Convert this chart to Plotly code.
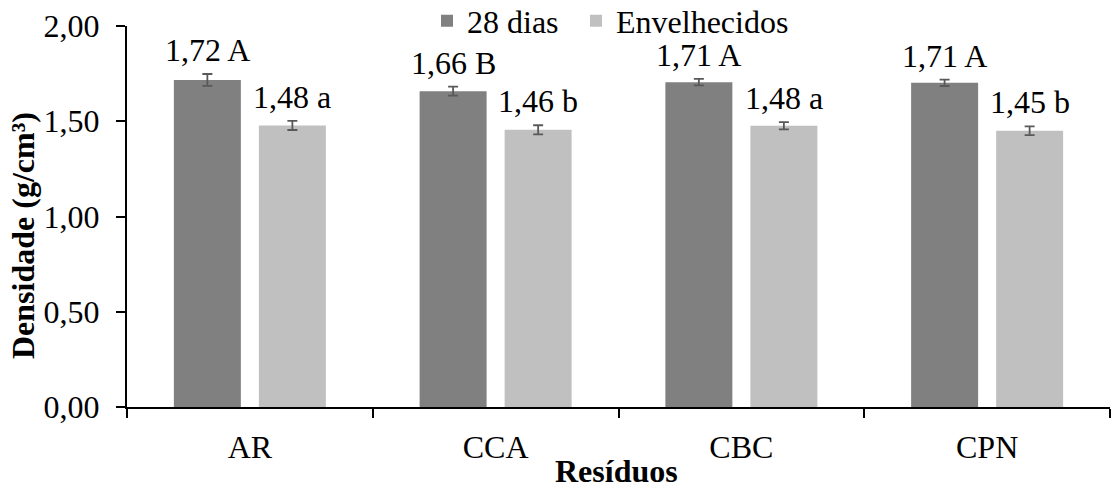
import plotly.graph_objects as go

categories = ["AR", "CCA", "CBC", "CPN"]
series_names = ["28 dias", "Envelhecidos"]
vals_28 = [1.717, 1.658, 1.705, 1.702]
vals_env = [1.478, 1.455, 1.476, 1.450]
err_28 = [0.031, 0.024, 0.017, 0.017]
err_env = [0.024, 0.024, 0.019, 0.023]
labels_28 = ["1,72 A", "1,66 B", "1,71 A", "1,71 A"]
labels_env = ["1,48 a", "1,46 b", "1,48 a", "1,45 b"]
y_ticks = [0, 0.5, 1.0, 1.5, 2.0]
y_ticktext = ["0,00", "0,50", "1,00", "1,50", "2,00"]

FONT = "Liberation Serif"
FS = 32
C28 = "#808080"
CENV = "#C0C0C0"
ERRC = "#595959"
BARGAP = 0.308
BARGROUPGAP = 0.212

fig = go.Figure()
for name, vals, errs, col, leg in [(series_names[0], vals_28, err_28, C28, "legend"),
                                   (series_names[1], vals_env, err_env, CENV, "legend2")]:
    fig.add_trace(go.Bar(
        name=name, x=categories, y=vals, marker=dict(color=col, line=dict(width=0)),
        error_y=dict(type="data", array=errs, visible=True, color=ERRC, thickness=1.8, width=5),
        legend=leg,
    ))

slot = (1 - BARGAP) / 2
off = slot / 2
tfont = dict(family=FONT, size=FS, color="black")
annotations = []
for i in range(len(categories)):
    for sign, vals, errs, labs in [(-1, vals_28, err_28, labels_28), (1, vals_env, err_env, labels_env)]:
        annotations.append(dict(
            x=i + sign * off, y=vals[i] + errs[i], xref="x", yref="y",
            text=labs[i], showarrow=False, yanchor="bottom", xanchor="center",
            yshift=4, font=tfont))

annotations.append(dict(
    x=-104 / 983, y=(407 - 236) / 381, xref="paper", yref="paper",
    text="<b>Densidade (g/cm³)</b>", textangle=-90, showarrow=False,
    xanchor="center", yanchor="middle", font=tfont))
annotations.append(dict(
    x=(616.5 - 127) / 983, y=-(471 - 407) / 381, xref="paper", yref="paper",
    text="<b>Resíduos</b>", showarrow=False,
    xanchor="center", yanchor="middle", font=tfont))

fig.update_layout(
    width=1112, height=486,
    margin=dict(l=127, r=2, t=26, b=79, autoexpand=False),
    paper_bgcolor="white", plot_bgcolor="white",
    barmode="group", bargap=BARGAP, bargroupgap=BARGROUPGAP,
    font=tfont,
    showlegend=True,
    legend=dict(orientation="h", x=(427 - 127) / 983, xanchor="left",
                y=1 + 5 / 381, yanchor="middle", bgcolor="rgba(0,0,0,0)", font=tfont),
    legend2=dict(orientation="h", x=(576 - 127) / 983, xanchor="left",
                 y=1 + 5 / 381, yanchor="middle", bgcolor="rgba(0,0,0,0)", font=tfont),
    annotations=annotations,
)
fig.update_xaxes(type="category", range=[-0.5, 3.5], showline=True, linecolor="black", linewidth=2,
                 ticks="outside", tickson="boundaries", ticklen=9, tickwidth=2, tickcolor="black",
                 showgrid=False, zeroline=False, ticklabelstandoff=11, automargin=False,
                 tickfont=tfont)
fig.update_yaxes(range=[0, 2.0], showline=True, linecolor="black", linewidth=2,
                 ticks="outside", ticklen=9, tickwidth=2, tickcolor="black",
                 tickvals=y_ticks, ticktext=y_ticktext, showgrid=False, zeroline=False,
                 ticklabelstandoff=10, automargin=False,
                 tickfont=tfont)

fig.write_html("out.html", config={"displayModeBar": False},
               post_script="document.body.style.margin='0';")
